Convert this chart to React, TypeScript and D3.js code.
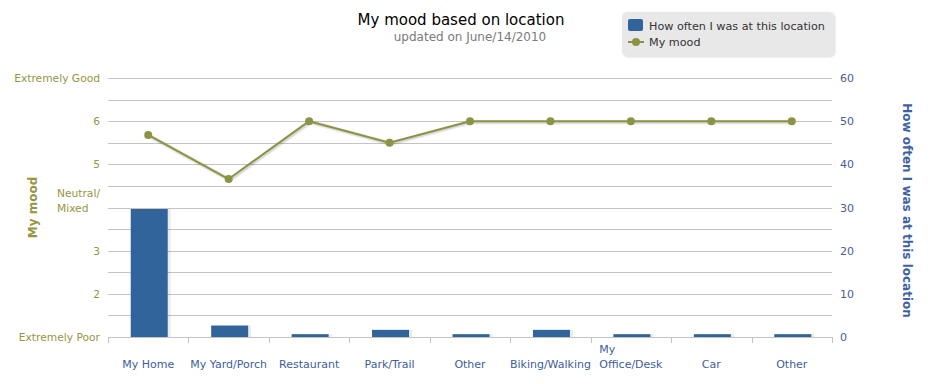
import React, { useLayoutEffect, useRef } from "react";
import * as d3 from "d3";

const categories: string[] = ["My Home", "My Yard/Porch", "Restaurant", "Park/Trail", "Other", "Biking/Walking", "My\nOffice/Desk", "Car", "Other"];
const frequency: number[] = [30, 3, 1, 2, 1, 2, 1, 1, 1];
const mood: number[] = [5.68, 4.66, 6, 5.5, 6, 6, 6, 6, 6];
const leftTickValues: number[] = [7, 6, 5, 4, 3, 2, 1];
const leftTickLabels: string[] = ["Extremely Good", "6", "5", "Neutral/\nMixed", "3", "2", "Extremely Poor"];
const rightTickValues: number[] = [0, 10, 20, 30, 40, 50, 60];
const titleText = "My mood based on location";
const subtitleText = "updated on June/14/2010";
const barSeriesName = "How often I was at this location";
const lineSeriesName = "My mood";
const leftAxisTitle = "My mood";
const rightAxisTitle = "How often I was at this location";

const W = 932, H = 384;
const L = 108, R = 832, T = 78, B = 337;
const FONT = "'DejaVu Sans', Verdana, sans-serif";
const BAR = "#30649a";
const OLIVE = "#8c9443";
const OLIVE_TXT = "#96963f";
const BLUE_TXT = "#3e5d9c";
const RIGHT_TXT = "#4d5c97";
const GRID = "#c4c4c4";

export default function App() {
  const ref = useRef<SVGSVGElement>(null);
  const idx = categories.map((_, i) => i);
  const x = d3.scaleBand<number>().domain(idx).range([L, R]).padding(0);
  const yR = d3.scaleLinear().domain([0, 60]).range([B, T]);
  const yL = d3.scaleLinear().domain([1, 7]).range([B, T]);
  const cx = (i: number) => (x(i) as number) + x.bandwidth() / 2;
  const barW = 37;

  const line = d3.line<number>().x((_, i) => cx(i)).y((d) => yL(d));
  const moodPath = line(mood) || "";
  const gridVals = d3.range(0, 61, 5);

  useLayoutEffect(() => {
    if (!ref.current) return;
    d3.select(ref.current).selectAll<SVGTextElement, unknown>("text.wrap").each(function () {
      const t = this as SVGTextElement;
      const tspans = Array.from(t.querySelectorAll("tspan")) as SVGTSpanElement[];
      let maxW = 0;
      tspans.forEach((s) => { maxW = Math.max(maxW, s.getComputedTextLength()); });
      const anchor = t.getAttribute("data-anchor");
      const ax = +(t.getAttribute("data-x") || 0);
      const start = anchor === "end" ? ax - maxW : ax - maxW / 2;
      tspans.forEach((s) => s.setAttribute("x", String(start)));
      t.setAttribute("text-anchor", "start");
    });
  }, []);

  const renderLabel = (label: string, ax: number, ay: number, anchor: "middle" | "end", lh: number, fill: string, key: string, fs: number) => {
    const lines = label.split("\n");
    if (lines.length === 1) {
      return (
        <text key={key} x={ax} y={ay} textAnchor={anchor} fill={fill} fontSize={fs} fontFamily={FONT}>{label}</text>
      );
    }
    const y0 = ay - (lines.length - 1) * lh;
    return (
      <text key={key} className="wrap" data-anchor={anchor} data-x={ax} textAnchor={anchor} fill={fill} fontSize={fs} fontFamily={FONT}>
        {lines.map((ln, j) => (
          <tspan key={j} x={ax} y={y0 + j * lh}>{ln}</tspan>
        ))}
      </text>
    );
  };

  return (
    <svg ref={ref} width={W} height={H} style={{ position: "absolute", left: 0, top: 0, background: "#fff" }}>
      <defs>
        <filter id="legShadow" x="-5%" y="-5%" width="115%" height="130%">
          <feDropShadow dx="1" dy="1" stdDeviation="1" floodColor="#000" floodOpacity="0.15" />
        </filter>
      </defs>
      {/* Title */}
      <text x={461} y={25} textAnchor="middle" fontSize={15} fontFamily={FONT} fill="#000">{titleText}</text>
      <text x={470} y={41} textAnchor="middle" fontSize={12} fontFamily={FONT} fill="#7a7a7a">{subtitleText}</text>

      {/* Legend */}
      <g>
        <rect x={622} y={12} width={212} height={44} rx={5} ry={5} fill="#e8e8e8" filter="url(#legShadow)" />
        <rect x={628} y={19} width={15} height={12} rx={2} fill={BAR} />
        <text x={649} y={30} fontSize={11.2} fontFamily={FONT} fill="#333">{barSeriesName}</text>
        <line x1={628} x2={644} y1={42} y2={42} stroke={OLIVE} strokeWidth={2} />
        <circle cx={636} cy={42} r={4} fill={OLIVE} />
        <text x={649} y={46} fontSize={11.2} fontFamily={FONT} fill="#333">{lineSeriesName}</text>
      </g>

      {/* Grid */}
      {gridVals.map((v) => (
        <line key={v} x1={L} x2={R} y1={Math.round(yR(v)) + 0.5} y2={Math.round(yR(v)) + 0.5} stroke={GRID} strokeWidth={1} />
      ))}
      {/* X axis ticks */}
      {idx.concat([categories.length]).map((i) => {
        const xx = Math.round(i === categories.length ? R : (x(i) as number)) + 0.5;
        return <line key={"t" + i} x1={xx} x2={xx} y1={B} y2={B + 6} stroke={GRID} />;
      })}

      {/* Bars */}
      {frequency.map((v, i) => {
        const top = yR(v) + 1.5;
        const bx = cx(i) - barW / 2 + 1;
        return (
          <g key={"b" + i}>
            <rect x={bx + 1} y={top} width={barW + 2} height={B - top} fill="#000" opacity={0.08} />
            <rect x={bx} y={top} width={barW} height={B - top} fill={BAR} />
          </g>
        );
      })}

      {/* Mood line shadow */}
      <path d={moodPath} fill="none" stroke="#000" strokeOpacity={0.05} strokeWidth={5} transform="translate(1,1)" strokeLinejoin="round" />
      <path d={moodPath} fill="none" stroke="#000" strokeOpacity={0.1} strokeWidth={3} transform="translate(1,1)" strokeLinejoin="round" />
      <path d={moodPath} fill="none" stroke={OLIVE} strokeWidth={2} strokeLinejoin="round" />
      {mood.map((v, i) => (
        <circle key={"m" + i} cx={cx(i)} cy={yL(v)} r={4} fill={OLIVE} />
      ))}

      {/* Left axis labels */}
      {leftTickValues.map((v, i) => renderLabel(leftTickLabels[i], 100, yL(v) + 4, "end", 15, OLIVE_TXT, "l" + i, 10.7))}

      {/* Right axis labels */}
      {rightTickValues.map((v) => (
        <text key={"r" + v} x={840} y={yR(v) + 4} fontSize={11} fontFamily={FONT} fill={RIGHT_TXT}>{v}</text>
      ))}

      {/* X labels */}
      {categories.map((c, i) => renderLabel(c, cx(i), 368, "middle", 15, BLUE_TXT, "x" + i, 11))}

      {/* Axis titles */}
      <text transform={`translate(37,${(T + B) / 2}) rotate(-90)`} textAnchor="middle" fontSize={12} fontWeight="bold" fontFamily={FONT} fill={OLIVE_TXT}>{leftAxisTitle}</text>
      <text transform={`translate(903,${(T + B) / 2 + 3}) rotate(90)`} textAnchor="middle" fontSize={12} fontWeight="bold" fontFamily={FONT} fill="#3d62a3">{rightAxisTitle}</text>
    </svg>
  );
}
